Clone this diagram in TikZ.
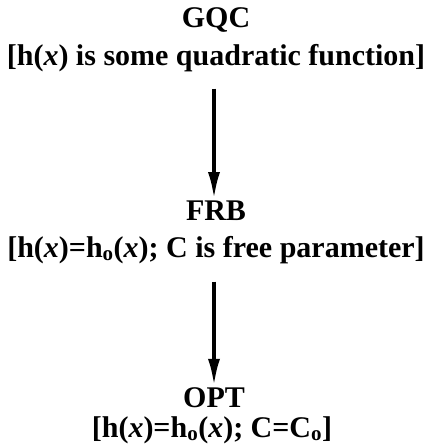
\documentclass[tikz,border=0pt]{standalone}
\usepackage{fontspec}
\setmainfont{Liberation Serif}
\usetikzlibrary{arrows.meta}

\tikzset{
	lbl/.style={anchor=base, inner sep=0pt, font=\fontsize{30}{36}\selectfont\bfseries},
	downarrow/.style={draw=black, line width=4pt, -{Latex[length=28pt, width=12pt]}}
}

\begin{document}
\begin{tikzpicture}[x=1pt, y=1pt]
			\useasboundingbox (0,0) rectangle (432,-444);

			% Define nodes with their coordinates
			\node[lbl] (gqc) at (216, -28) {GQC};
			\node[lbl] (gqcdef) at (216, -65) {[h(\textit{x}) is some quadratic function]};
			\node[lbl] (frb) at (216, -220) {FRB};
			\node[lbl] (frbdef) at (216, -257) {[h(\textit{x})=h\textsubscript{o}(\textit{x}); C is free parameter]};
			\node[lbl] (opt) at (214, -407) {OPT};
			\node[lbl] (optdef) at (212, -437) {[h(\textit{x})=h\textsubscript{o}(\textit{x}); C=C\textsubscript{o}]};

			% Draw arrows between levels
			\path[downarrow] ([xshift=-2pt, yshift=-17pt]gqcdef.south) -- ([xshift=-2pt]frb.north);
			\path[downarrow] ([xshift=-2pt, yshift=-18pt]frbdef.south) -- (opt.north);

		\end{tikzpicture}
\end{document}
